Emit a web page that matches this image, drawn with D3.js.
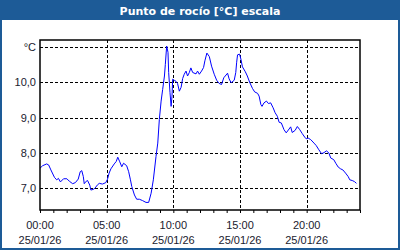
<!DOCTYPE html>
<html><head><meta charset="utf-8">
<script src="https://cdn.jsdelivr.net/npm/d3@7"></script>
<style>html,body{margin:0;padding:0;background:#fff;overflow:hidden}</style>
</head><body>
<svg id="c" width="400" height="250"></svg>
<script>
// minutes since 00:00 of 25/01/26
const minutes = [0,12,30,39,49,65,75,83,92,106,121,132,147,159,172,181,188,195,199,208,214,224,229,240,247,259,267,281,296,304,311,319,334,343,350,359,368,376,390,399,407,413,425,435,447,462,477,489,500,510,522,530,537,545,552,560,564,570,576,579,585,590,594,597,604,612,619,627,635,642,649,657,664,672,679,687,702,709,717,727,736,742,751,762,772,784,795,806,817,827,844,851,860,874,881,885,889,898,904,911,924,933,943,956,966,979,986,994,999,1008,1019,1028,1038,1049,1058,1068,1076,1086,1098,1108,1121,1128,1135,1148,1158,1169,1180,1191,1198,1207,1218,1233,1243,1255,1267,1278,1289,1300,1308,1322,1331,1342,1353,1363,1375,1387,1394,1405,1415,1424];
const dewPoint = [7.57,7.64,7.69,7.66,7.52,7.31,7.24,7.28,7.18,7.27,7.27,7.20,7.13,7.16,7.26,7.47,7.50,7.33,7.13,7.20,7.22,7.09,6.95,6.97,7.00,7.10,7.14,7.12,7.16,7.26,7.43,7.55,7.69,7.76,7.88,7.75,7.61,7.71,7.64,7.47,7.24,7.05,6.81,6.69,6.69,6.65,6.60,6.60,6.86,7.24,7.90,8.28,8.95,9.47,9.80,10.18,10.51,11.03,10.85,10.28,9.71,9.32,9.61,10.09,10.06,10.03,9.97,9.75,9.86,10.11,10.23,10.32,10.18,10.28,10.41,10.28,10.24,10.32,10.23,10.32,10.42,10.61,10.83,10.73,10.46,10.23,10.06,9.97,9.94,10.13,10.26,10.10,9.99,10.06,10.28,10.57,10.78,10.80,10.66,10.44,10.30,10.18,10.01,9.83,9.73,9.69,9.61,9.37,9.32,9.42,9.47,9.40,9.42,9.28,9.14,9.04,8.87,8.85,8.66,8.57,8.68,8.74,8.58,8.64,8.75,8.66,8.55,8.45,8.40,8.42,8.38,8.28,8.21,8.09,7.98,8.01,8.06,8.00,7.86,7.81,7.71,7.60,7.55,7.52,7.43,7.33,7.24,7.22,7.19,7.14];
const yTicks = [7, 8, 9, 10, 11];
const yTickLabels = ["7,0", "8,0", "9,0", "10,0", "°C"];
const xTicks = [0, 5, 10, 15, 20];
const xTickLabels = ["00:00", "05:00", "10:00", "15:00", "20:00"];
const dateLabel = "25/01/26";
const title = "Punto de rocío [°C] escala";

const svg = d3.select("#c");
const W = 400, H = 250;
const blue = "#1d5b97";
const L = 40, R = 360, T = 40, B = 210;
const x = d3.scaleLinear().domain([0, 24]).range([L, R]);
const y = d3.scaleLinear().domain([6.385, 11.2]).range([B, T]);

// frame
svg.append("rect").attr("x",0).attr("y",0).attr("width",W).attr("height",H).attr("fill",blue);
svg.append("rect").attr("x",2).attr("y",20).attr("width",W-4).attr("height",H-22).attr("fill","#fff");
svg.append("text").attr("x",W/2).attr("y",14.5).attr("text-anchor","middle")
  .attr("fill","#fff").attr("font-family","DejaVu Sans").attr("font-weight","bold")
  .attr("font-size","11px").text(title);

const font = "Liberation Sans";
const txt = "#1a1a2e";

// grid
const g = svg.append("g");
g.selectAll("line.h").data(yTicks).join("line")
  .attr("x1",L).attr("x2",R).attr("y1",d=>Math.round(y(d))+0.5).attr("y2",d=>Math.round(y(d))+0.5)
  .attr("stroke","#000").attr("stroke-dasharray","3,2");
g.selectAll("line.v").data(xTicks.filter(d=>d>0)).join("line")
  .attr("y1",T).attr("y2",B).attr("x1",d=>Math.round(x(d))+0.5).attr("x2",d=>Math.round(x(d))+0.5)
  .attr("stroke","#000").attr("stroke-dasharray","3,2");

// hourly ticks via axis
const hours = d3.range(0, 25);
const xAxis = d3.axisBottom(x).tickValues(hours).tickSize(3).tickFormat("");
const ax = svg.append("g").attr("transform",`translate(0,${B})`).call(xAxis);
ax.select(".domain").remove();
ax.selectAll("line").attr("stroke","#000");

// y labels
svg.selectAll("text.yl").data(yTicks).join("text")
  .attr("x",36).attr("y",d=>y(d)+4).attr("text-anchor","end")
  .attr("font-family",font).attr("font-size","11px").attr("fill",txt)
  .text((d,i)=>yTickLabels[i]);

// x labels
xTicks.forEach((t,i)=>{
  svg.append("text").attr("x",x(t)).attr("y",229).attr("text-anchor","middle")
    .attr("font-family",font).attr("font-size","11px").attr("fill",txt).text(xTickLabels[i]);
  svg.append("text").attr("x",x(t)).attr("y",244).attr("text-anchor","middle")
    .attr("font-family",font).attr("font-size","11px").attr("fill",txt).text(dateLabel);
});

// line
const data = minutes.map((m,i)=>({t:m/60, v:dewPoint[i]}));
svg.append("path").datum(data)
  .attr("d", d3.line().x(d=>x(d.t)).y(d=>y(d.v)))
  .attr("fill","none").attr("stroke","#0000ff").attr("stroke-width",1);

// plot border
svg.append("rect").attr("x",L).attr("y",T).attr("width",R-L).attr("height",B-T)
  .attr("fill","none").attr("stroke","#000").attr("stroke-width",1.5);
</script>
</body></html>
